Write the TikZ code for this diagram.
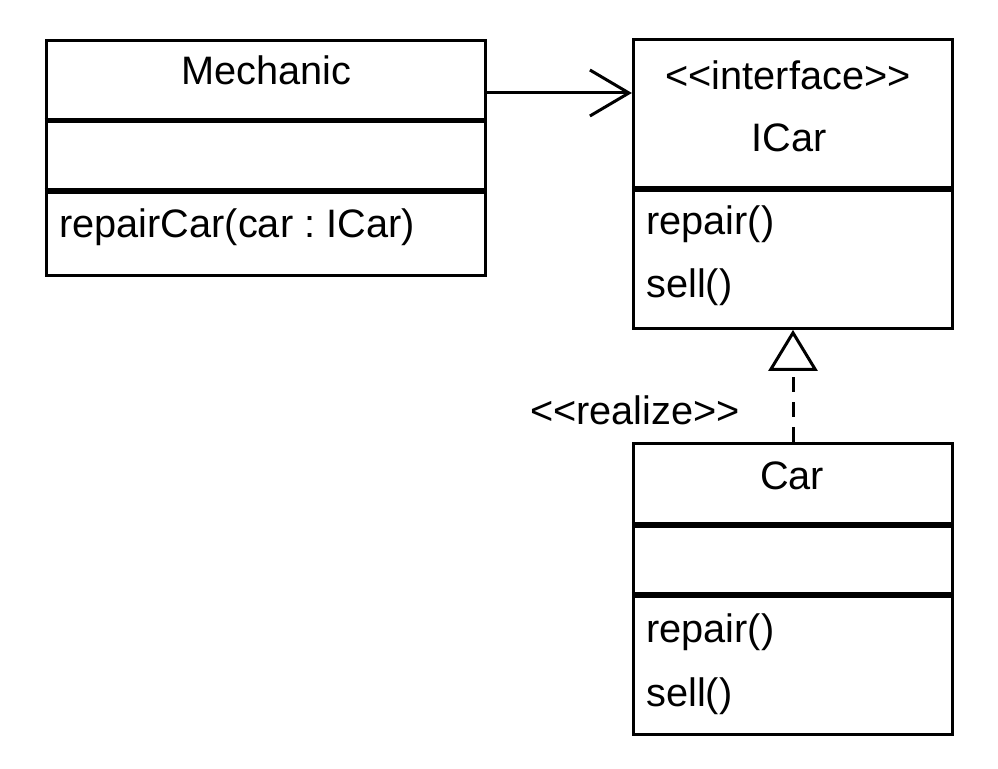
\documentclass[tikz,border=0pt]{standalone}
\usepackage{fontspec}
\setmainfont{Liberation Sans}
\usepackage{tikz}
\usetikzlibrary{arrows.meta}
\frenchspacing
\newcommand{\umlfont}{\fontsize{22.6pt}{26pt}\selectfont}
\newcommand{\drawclassbox}[4]{
  \node[classbox, minimum width=#3cm, minimum height=#4cm] (#1) at #2 {};
}
\tikzset{
  classbox/.style={draw=black, line width=0.065cm, inner sep=0pt},
  divider/.style={draw=black, line width=0.11cm},
  umltext/.style={inner sep=0pt, font=\umlfont},
  assocline/.style={line width=0.06cm, -{Straight Barb[length=0.78cm, width=0.92cm]}},
  realizeline/.style={line width=0.06cm, dash pattern=on 0.3cm off 0.2cm, -{Triangle[open, length=0.82cm, width=0.98cm]}}
}

\begin{document}
\begin{tikzpicture}
      \useasboundingbox (0,0) rectangle (19.96,15.38);
      \drawclassbox{mech}{(5.32,12.22)}{8.79}{4.71}
      \drawclassbox{icar}{(15.86,11.70)}{6.38}{5.77}
      \drawclassbox{car}{(15.86,3.60)}{6.38}{5.83}
      \draw[divider] (mech.west |- 0,12.97) -- (mech.east |- 0,12.97);
      \draw[divider] (mech.west |- 0,11.56) -- (mech.east |- 0,11.56);
      \draw[divider] (icar.west |- 0,11.60) -- (icar.east |- 0,11.60);
      \draw[divider] (car.west |- 0,4.88) -- (car.east |- 0,4.88);
      \draw[divider] (car.west |- 0,3.48) -- (car.east |- 0,3.48);
      \node[umltext, anchor=base] (mechname) at (5.32,13.68) {Mechanic};
      \node[umltext, anchor=base west] (mechop) at (1.18,10.62) {repairCar(car : ICar)};
      \node[umltext, anchor=base] (icarstereo) at (15.76,13.58) {<{}<interface>{}>};
      \node[umltext, anchor=base] (icarname) at (15.78,12.34) {ICar};
      \node[umltext, anchor=base west] (icarrepair) at (12.92,10.68) {repair()};
      \node[umltext, anchor=base west] (icarsell) at (12.92,9.42) {sell()};
      \node[umltext, anchor=base] (carname) at (15.84,5.58) {Car};
      \node[umltext, anchor=base west] (carrepair) at (12.92,2.52) {repair()};
      \node[umltext, anchor=base west] (carsell) at (12.92,1.24) {sell()};
      \node[umltext, anchor=base] (realizelabel) at (12.70,6.88) {<{}<realize>{}>};
      \coordinate (assocstart) at (mech.east |- 0,13.52);
      \draw[assocline] (assocstart) -- (assocstart -| icar.west);
      \draw[realizeline] (car.north) -- (icar.south);
    \end{tikzpicture}
\end{document}
